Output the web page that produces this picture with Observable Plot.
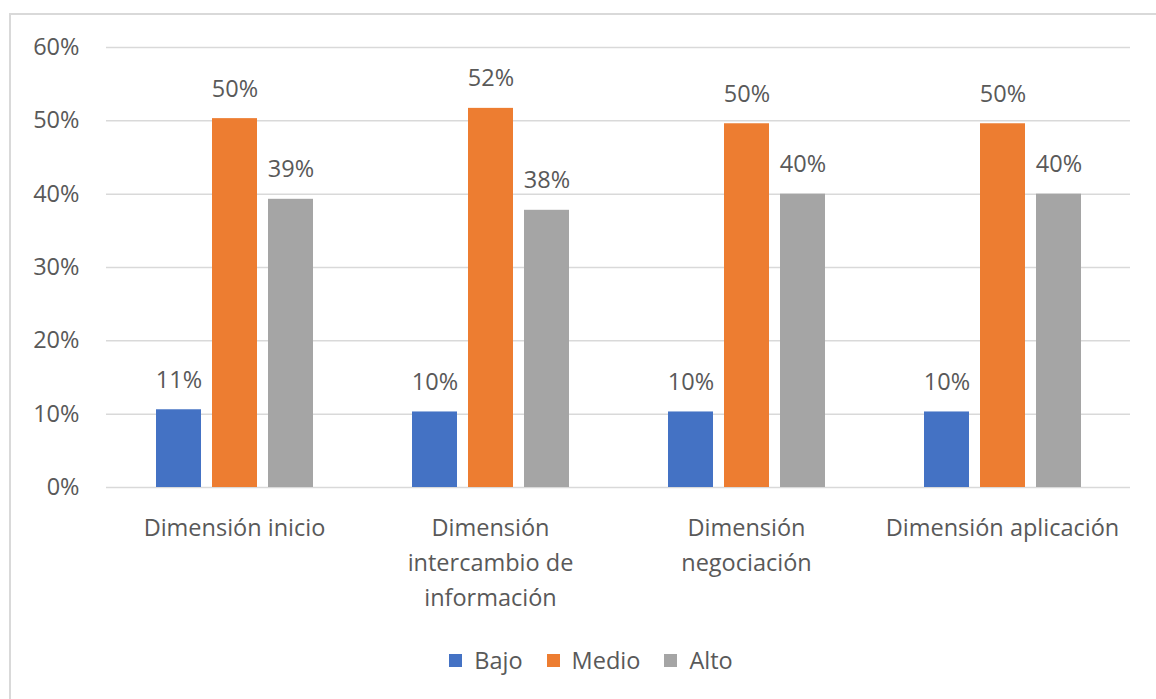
<!DOCTYPE html>
<html>
<head>
<meta charset="utf-8">
<script src="https://cdn.jsdelivr.net/npm/d3@7"></script>
<script src="https://cdn.jsdelivr.net/npm/@observablehq/plot@0.6"></script>
<style>
  html, body { margin: 0; padding: 0; background: #fff; }
  #wrap { position: relative; width: 1156px; height: 699px; overflow: hidden; font-family: "Open Sans", sans-serif; }
  #border { position: absolute; left: 9px; top: 13px; right: -5px; bottom: -5px; border-left: 2px solid #d9d9d9; border-top: 2px solid #d9d9d9; }
  #chart { position: absolute; left: 0; top: 0; }
  #legend { position: absolute; left: 13px; top: 643px; width: 1156px; height: 34px; display: flex; justify-content: center; align-items: center; font-size: 23.5px; color: #595959; }
  .item { display: flex; align-items: center; margin: 0 12px; }
  .sw { width: 13px; height: 13px; margin-right: 12px; }
</style>
</head>
<body>
<div id="wrap">
  <div id="border"></div>
  <div id="chart"></div>
  <div id="legend"></div>
</div>
<script>
const dimensions = ["Dimensión inicio", "Dimensión intercambio de información", "Dimensión negociación", "Dimensión aplicación"];
const dimensionLabels = ["Dimensión inicio", "Dimensión\nintercambio de\ninformación", "Dimensión\nnegociación", "Dimensión aplicación"];
const levels = ["Bajo", "Medio", "Alto"];
const colors = ["#4472C4", "#ED7D31", "#A5A5A5"];
const bajo = [10.6, 10.3, 10.3, 10.3];
const medio = [50.3, 51.7, 49.6, 49.6];
const alto = [39.3, 37.8, 40.0, 40.0];
const valueLabels = [[11, 50, 39], [10, 52, 38], [10, 50, 40], [10, 50, 40]];
const yTicks = [0, 10, 20, 30, 40, 50, 60];

const series = [bajo, medio, alto];
const data = [];
dimensions.forEach((dim, i) => {
  levels.forEach((lv, j) => {
    data.push({dim, level: lv, value: series[j][i], label: valueLabels[i][j] + "%"});
  });
});
const labelRows = dimensions.map((d, i) => ({dim: d, text: dimensionLabels[i]}));

const textColor = "#595959";
const fontFamily = "'Open Sans', sans-serif";
const fs = 23.5;

const plot = Plot.plot({
  width: 1156,
  height: 640,
  marginLeft: 106,
  marginRight: 26,
  marginTop: 47,
  marginBottom: 153,
  style: {fontFamily, fontSize: fs + "px", color: textColor, background: "transparent"},
  fx: {domain: dimensions, padding: 0, axis: null},
  x: {domain: levels, paddingInner: 0.2, paddingOuter: 0.87, axis: null},
  y: {domain: [0, 60], axis: null},
  color: {domain: levels, range: colors},
  marks: [
    Plot.ruleY(yTicks, {y: d => d, stroke: "#d9d9d9", strokeWidth: 1.5}),
    Plot.axisY({ticks: yTicks, tickFormat: d => d + "%", tickSize: 0, tickPadding: 27, fontSize: fs, fill: textColor, label: null}),
    Plot.barY(data, {fx: "dim", x: "level", y: "value", fill: "level"}),
    Plot.text(data, {fx: "dim", x: "level", y: "value", text: "label", lineAnchor: "bottom", dy: -22, fontSize: fs, fill: textColor}),
    Plot.text(labelRows, {fx: "dim", text: "text", frameAnchor: "bottom", lineAnchor: "top", dy: 24, lineHeight: 1.49, fontSize: fs, fill: textColor})
  ]
});
document.getElementById("chart").appendChild(plot);

const legend = document.getElementById("legend");
levels.forEach((lv, i) => {
  const item = document.createElement("div");
  item.className = "item";
  const sw = document.createElement("div");
  sw.className = "sw";
  sw.style.background = colors[i];
  const t = document.createElement("span");
  t.textContent = lv;
  item.appendChild(sw);
  item.appendChild(t);
  legend.appendChild(item);
});
</script>
</body>
</html>
